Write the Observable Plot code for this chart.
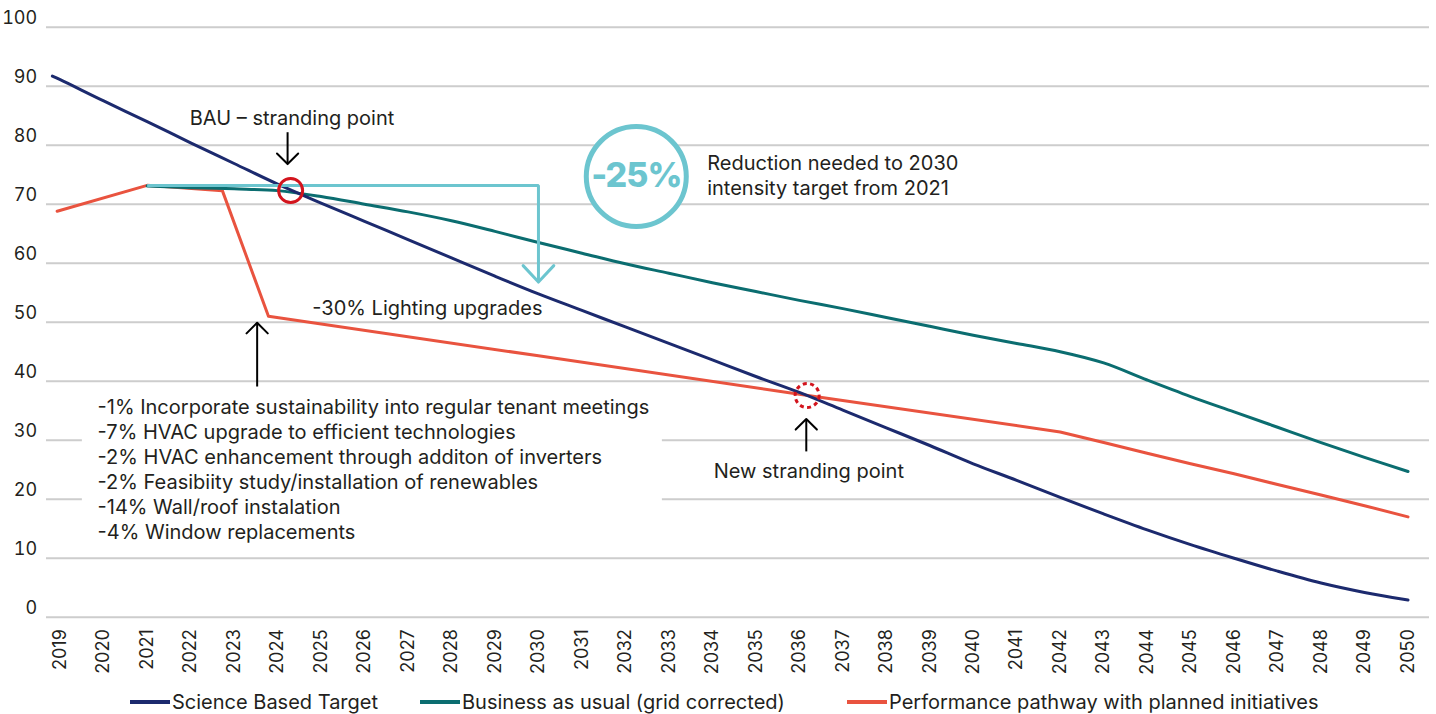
<!DOCTYPE html>
<html><head><meta charset="utf-8">
<script src="https://cdn.jsdelivr.net/npm/d3@7"></script>
<script src="https://cdn.jsdelivr.net/npm/@observablehq/plot@0.6"></script>
<style>
html,body{margin:0;padding:0;background:#fff;}
#wrap{position:relative;width:1436px;height:714px;font-family:Inter,"Noto Sans",sans-serif;color:#231f20;overflow:hidden;}
#legend{position:absolute;left:0;top:690px;width:1436px;height:24px;}
.li{position:absolute;top:0;height:24px;display:flex;align-items:center;font-size:20px;white-space:nowrap;}
.sw{width:40px;height:4px;margin-right:2px;}
</style></head><body><div id="wrap"><div id="chart"></div><div id="legend"></div></div>
<script>
// ---- data ----
const years = d3.range(2019, 2051);
const yTicks = [0,10,20,30,40,50,60,70,80,90,100];

const sbtYears = [2018.82, 2019, 2020, 2021, 2022, 2023, 2024, 2025, 2026, 2027, 2028, 2029, 2030, 2031, 2032, 2033, 2034, 2035, 2036, 2037, 2038, 2039, 2040, 2041, 2042, 2043, 2044, 2045, 2046, 2047, 2048, 2049, 2050];
const sbtValues = [91.7, 91.1, 87.5, 84.0, 80.4, 76.9, 73.4, 70.2, 67.1, 64.0, 60.9, 57.8, 54.8, 52.0, 49.2, 46.4, 43.6, 40.8, 38.1, 35.1, 32.1, 29.1, 26.0, 23.2, 20.3, 17.5, 14.8, 12.3, 10.0, 7.8, 5.8, 4.2, 2.9];

const bauYears = [2021, 2022, 2023, 2024, 2025, 2026, 2027, 2028, 2029, 2030, 2031, 2032, 2033, 2034, 2035, 2036, 2037, 2038, 2039, 2040, 2041, 2042, 2043, 2044, 2045, 2046, 2047, 2048, 2049, 2050];
const bauValues = [73.1, 72.8, 72.6, 72.3, 71.3, 70.0, 68.7, 67.2, 65.4, 63.5, 61.7, 59.9, 58.3, 56.7, 55.2, 53.7, 52.3, 50.8, 49.3, 47.8, 46.4, 45.0, 43.1, 40.2, 37.4, 34.8, 32.2, 29.6, 27.1, 24.7];

const perfYears = [2018.93, 2021, 2022.73, 2023.79, 2030, 2036, 2042, 2043, 2044, 2045, 2046, 2047, 2048, 2049, 2050];
const perfValues = [68.8, 73.2, 72.3, 51.0, 44.3, 37.8, 31.4, 29.6, 27.8, 26.0, 24.3, 22.5, 20.7, 18.9, 17.0];

const seriesNames = ["Science Based Target", "Business as usual (grid corrected)", "Performance pathway with planned initiatives"];
const seriesColors = ["#1c2a6e", "#0b6d70", "#e9533f"];

// ---- annotations ----
const cyan = "#6cc5cf", red = "#d3141d", ink = "#231f20";
const cyanX = [2021, 2030, 2030], cyanY = [73.15, 73.15, 56.8];
const bauStrand = {x: 2024.30, y: 72.32};
const newStrand = {x: 2036.18, y: 37.58};
const blackArrows = [
  {x: 2024.23, y1: 82.2, y2: 76.8},
  {x: 2023.53, y1: 39.1, y2: 49.9},
  {x: 2036.16, y1: 28.1, y2: 33.6}
];
const initiatives = [
  "-1% Incorporate sustainability into regular tenant meetings",
  "-7% HVAC upgrade to efficient technologies",
  "-2% HVAC enhancement through additon of inverters",
  "-2% Feasibiity study/installation of renewables",
  "-14% Wall/roof instalation",
  "-4% Window replacements"
];
const labels = [
  {x: 2021.98, y: 84.5, text: "BAU \u2013 stranding point", anchor: "middle"},
  {x: 2024.80, y: 52.3, text: "-30% Lighting upgrades", anchor: "middle"},
  {x: 2034.03, y: 24.7, text: "New stranding point", anchor: "middle"},
  {x: 2033.88, y: 78.85, text: "Reduction needed to 2030\nintensity target from 2021", anchor: "top"},
  {x: 2019.86, y: 37.45, text: initiatives.join("\n"), anchor: "top"}
];
const badge = {x: 2032.25, y: 74.7, text: "-25%"};
const whiteBox = {x1: 2019.51, x2: 2032.85, y1: 12.2, y2: 37.6};

// ---- shapes ----
function headShape(wing, halfDeg) {
  const a = halfDeg * Math.PI / 180, dx = wing * Math.sin(a), dy = wing * Math.cos(a);
  return {draw(ctx, l) {
    ctx.moveTo(-dx, -l + dy); ctx.lineTo(0, -l); ctx.lineTo(dx, -l + dy);
  }};
}

const toRows = (xs, vs) => xs.map((x, i) => ({x, y: vs[i]}));

const W = 1436, H = 686;
const chart = Plot.plot({
  width: W, height: H,
  marginLeft: 46, marginRight: 7, marginTop: 26.7, marginBottom: H - 616.7,
  x: {domain: [2018.685, 2050.494], axis: null},
  y: {domain: [0, 100], axis: null},
  style: {fontFamily: "Inter, 'Noto Sans', sans-serif", color: ink, background: "white", overflow: "visible"},
  marks: [
    Plot.gridY(yTicks, {stroke: "#cdcdcd", strokeOpacity: 1, strokeWidth: 2}),
    Plot.rect([whiteBox], {x1: "x1", x2: "x2", y1: "y1", y2: "y2", fill: "white"}),
    Plot.axisY(yTicks, {tickSize: 0, tickPadding: 9.3, fontSize: 18, dy: -9, anchor: "left"}),
    Plot.text(years, {x: d => d, frameAnchor: "bottom", dy: 12, rotate: -90, textAnchor: "end", lineAnchor: "middle", fontSize: 18, text: d => String(d)}),
    Plot.line(toRows(perfYears, perfValues), {x: "x", y: "y", stroke: seriesColors[2], strokeWidth: 3}),
    Plot.line(toRows(bauYears, bauValues), {x: "x", y: "y", stroke: seriesColors[1], strokeWidth: 3, curve: "catmull-rom"}),
    Plot.line(toRows(sbtYears, sbtValues), {x: "x", y: "y", stroke: seriesColors[0], strokeWidth: 3, curve: "catmull-rom"}),
    // cyan connector
    Plot.line(toRows(cyanX, cyanY), {x: "x", y: "y", stroke: cyan, strokeWidth: 3, strokeLinejoin: "miter", strokeLinecap: "butt"}),
    Plot.vector([{x: cyanX[2], y: cyanY[2]}], {x: "x", y: "y", length: 1, rotate: 180, anchor: "end", shape: headShape(22.5, 43), stroke: cyan, strokeWidth: 3}),
    // stranding circles
    Plot.dot([bauStrand], {x: "x", y: "y", r: 12, stroke: red, strokeWidth: 3, fill: "none"}),
    Plot.dot([newStrand], {x: "x", y: "y", r: 12, stroke: red, strokeWidth: 3, fill: "none", strokeDasharray: "4,3.4"}),
    // black arrows
    Plot.link(blackArrows, {x1: "x", x2: "x", y1: "y1", y2: "y2", stroke: "#000", strokeWidth: 2}),
    Plot.vector(blackArrows, {x: "x", y: "y2", length: 1, rotate: d => d.y2 > d.y1 ? 0 : 180, anchor: "end", shape: headShape(15, 45), stroke: "#000", strokeWidth: 2}),
    // badge
    Plot.dot([badge], {x: "x", y: "y", r: 50, stroke: cyan, strokeWidth: 5, fill: "white"}),
    Plot.text([badge], {x: "x", y: "y", text: "text", fill: cyan, fontSize: 34, fontWeight: 800, lineAnchor: "middle", style: "letter-spacing:-1px"}),
    // text labels
    Plot.text(labels.filter(d => d.anchor === "middle"), {x: "x", y: "y", text: "text", textAnchor: "start", lineAnchor: "middle", fontSize: 20, fill: ink}),
    Plot.text(labels.filter(d => d.anchor === "top"), {x: "x", y: "y", text: "text", textAnchor: "start", lineAnchor: "top", lineHeight: 1.25, fontSize: 20, fill: ink})
  ]
});
document.getElementById("chart").appendChild(chart);
chart.querySelectorAll("text").forEach(t => { if (t.textContent === "-25%") t.setAttribute("letter-spacing", "-1"); });

// ---- legend ----
const legendLeft = [130, 420, 847];
const legend = document.getElementById("legend");
seriesNames.forEach((name, i) => {
  const item = document.createElement("div");
  item.className = "li";
  item.style.left = legendLeft[i] + "px";
  const sw = document.createElement("span");
  sw.className = "sw";
  sw.style.background = seriesColors[i];
  const t = document.createElement("span");
  t.textContent = name;
  item.appendChild(sw); item.appendChild(t);
  legend.appendChild(item);
});
</script>
</body></html>
